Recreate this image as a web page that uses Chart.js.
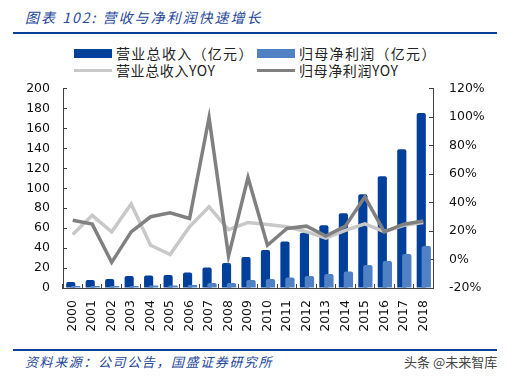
<!DOCTYPE html>
<html>
<head>
<meta charset="utf-8">
<script src="https://cdn.jsdelivr.net/npm/chart.js@4"></script>
<style>
  html, body { margin: 0; padding: 0; background: #fff; }
  body { width: 507px; height: 378px; position: relative; overflow: hidden; font-family: "Noto Sans CJK SC", sans-serif; }
  .title { position: absolute; left: 25px; top: 7px; font-size: 14px; font-style: italic; color: #25479a; letter-spacing: 2px; }
  .rule { position: absolute; left: 13px; width: 484px; height: 2px; background: #0b3f99; }
  .legend { position: absolute; font-size: 14px; color: #222; line-height: 17px; white-space: nowrap; letter-spacing: 1.3px; }
  .legend .sw { position: absolute; left: 0; width: 38px; }
  .legend .tx { position: absolute; left: 42px; top: 0; }
  .source { position: absolute; left: 25px; top: 352px; font-size: 13px; font-style: italic; color: #25479a; letter-spacing: 1.6px; }
  .mark { position: absolute; left: 404px; top: 352px; font-size: 13px; color: #444; }
  #wrap { position: absolute; left: 0; top: 61px; width: 507px; height: 276px; }
</style>
</head>
<body>
<div class="title">图表 102: 营收与净利润快速增长</div>
<div class="rule" style="top:32px"></div>

<div class="legend" style="left:74px;top:45px"><span class="sw" style="top:4px;height:9px;background:#003f9a"></span><span class="tx">营业总收入（亿元）</span></div>
<div class="legend" style="left:257px;top:45px"><span class="sw" style="top:4px;height:9px;background:#4f81c4"></span><span class="tx">归母净利润（亿元）</span></div>
<div class="legend" style="left:74px;top:62px"><span class="sw" style="top:7px;height:3px;background:#c8c8c8"></span><span class="tx" style="letter-spacing:0.6px">营业总收入YOY</span></div>
<div class="legend" style="left:257px;top:62px"><span class="sw" style="top:7px;height:3px;background:#808080"></span><span class="tx" style="letter-spacing:0.6px">归母净利润YOY</span></div>

<div id="wrap"><canvas id="c"></canvas></div>

<div class="rule" style="top:349px"></div>
<div class="source">资料来源：公司公告，国盛证券研究所</div>
<div class="mark">头条 @未来智库</div>

<script>
const years = ["2000","2001","2002","2003","2004","2005","2006","2007","2008","2009",
  "2010","2011","2012","2013","2014","2015","2016","2017","2018"];
const revenue = [6, 8, 9, 12, 12.5, 13, 15.5, 20.5, 25, 31, 38, 46.5, 55.5, 63, 75, 94, 112, 139, 175.5];
const profit = [2, 2, 2, 2, 2.5, 2.5, 3, 5, 5, 8, 9, 10.5, 12, 14, 16.5, 23, 27, 34, 42];
const revenueYoy = [17.6, 31, 19.4, 39, 10, 3.5, 23, 37, 21, 26, 24.5, 23, 19.5, 15, 20.5, 25, 19.5, 24, 26];
const profitYoy = [27.6, 24.8, -2, 19.4, 30, 32.7, 28.8, 99.5, 2.4, 57.5, 10, 21.8, 23.4, 16.4, 23.4, 44, 19.4, 24.8, 27];
const leftTicks = [0, 200, 20];
const rightTicks = [-20, 120, 20];

// shift the two bar series sideways so they overlap like the original
const shiftBars = {
  id: "shiftBars",
  beforeDatasetDraw(chart, args) {
    const dx = chart.data.datasets[args.index].shiftX;
    if (dx) { chart.ctx.save(); chart.ctx.translate(dx, 0); }
  },
  afterDatasetDraw(chart, args) {
    if (chart.data.datasets[args.index].shiftX) chart.ctx.restore();
  }
};

const axisColor = "#404040";
const tickFont = { family: "DejaVu Sans", size: 12.5 };

new Chart(document.getElementById("c").getContext("2d"), {
  type: "bar",
  data: {
    labels: years,
    datasets: [
      { label: "营业总收入（亿元）", data: revenue, backgroundColor: "#003f9a", yAxisID: "y",
        grouped: false, categoryPercentage: 1, barPercentage: 0.47, shiftX: -2, order: 4,
        borderRadius: { topLeft: 2, topRight: 2 } },
      { label: "归母净利润（亿元）", data: profit, backgroundColor: "#4f81c4", yAxisID: "y",
        grouped: false, categoryPercentage: 1, barPercentage: 0.48, shiftX: 3, order: 3,
        borderRadius: { topLeft: 2, topRight: 2 } },
      { type: "line", label: "营业总收入YOY", data: revenueYoy, yAxisID: "y1", borderColor: "#c8c8c8",
        borderWidth: 3.5, pointRadius: 0, tension: 0, order: 2 },
      { type: "line", label: "归母净利润YOY", data: profitYoy, yAxisID: "y1", borderColor: "#808080",
        borderWidth: 3.5, pointRadius: 0, tension: 0, order: 1 }
    ]
  },
  options: {
    responsive: true,
    maintainAspectRatio: false,
    animation: false,
    layout: { padding: { top: 10, left: 0, right: 0, bottom: 0 } },
    plugins: { legend: { display: false }, tooltip: { enabled: false } },
    scales: {
      x: {
        offset: true,
        grid: { display: true, drawOnChartArea: false, offset: true, tickLength: -4, color: axisColor },
        border: { color: axisColor, width: 1 },
        ticks: { color: "#111", font: tickFont, minRotation: 90, maxRotation: 90, padding: 16, autoSkip: false },
        afterFit(s) { s.height = 49; }
      },
      y: {
        position: "left",
        min: leftTicks[0], max: leftTicks[1],
        grid: { display: true, drawOnChartArea: false, tickLength: -4, color: axisColor },
        border: { color: axisColor, width: 1 },
        ticks: { stepSize: leftTicks[2], color: "#111", font: tickFont, padding: 17 },
        afterFit(s) { s.width = 63; }
      },
      y1: {
        position: "right",
        min: rightTicks[0], max: rightTicks[1],
        grid: { display: true, drawOnChartArea: false, tickLength: -4, color: axisColor },
        border: { color: axisColor, width: 1 },
        ticks: { stepSize: rightTicks[2], color: "#111", font: tickFont, padding: 20, callback: v => v + "%" },
        afterFit(s) { s.width = 74; }
      }
    }
  },
  plugins: [shiftBars]
});
</script>
</body>
</html>
